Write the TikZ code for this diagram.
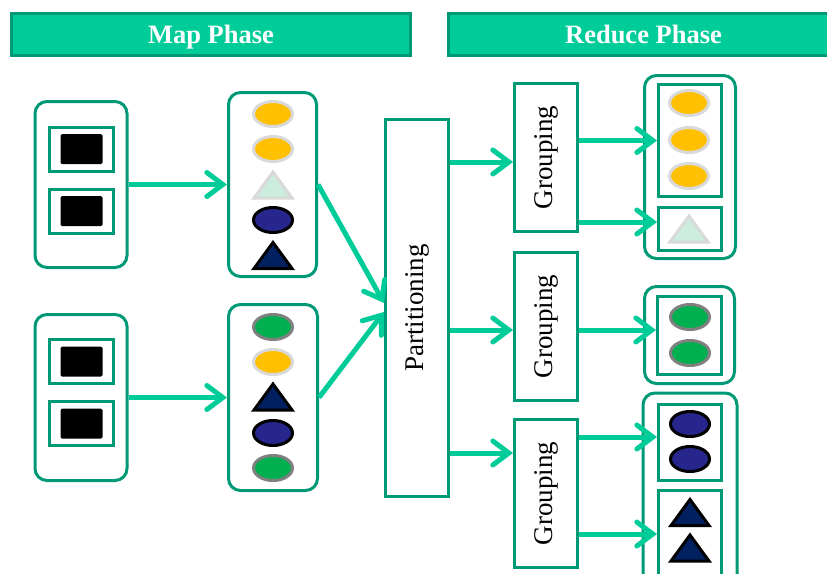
\documentclass[tikz,border=0pt]{standalone}
\usepackage{fontspec}
\setmainfont{Liberation Serif}
\usetikzlibrary{arrows.meta,shapes.geometric}

\definecolor{boxgreen}{RGB}{0,153,117}
\definecolor{flowgreen}{RGB}{0,204,153}
\definecolor{keyyellow}{RGB}{255,192,0}
\definecolor{keymint}{RGB}{204,236,222}
\definecolor{keynavy}{RGB}{38,38,140}
\definecolor{keydeep}{RGB}{0,32,96}
\definecolor{keygreen}{RGB}{0,176,80}
\definecolor{rimlight}{RGB}{217,217,217}
\definecolor{rimdark}{RGB}{128,128,128}

\tikzset{
  tri/.pic={\path[pic actions] (-19,13) -- (19,13) -- (0,-13) -- cycle;}
}

\begin{document}
\begin{tikzpicture}[x=1pt,y=-1pt,
      >={Straight Barb[length=16pt,width=24pt,line cap=round]},
      header/.style={draw=boxgreen,fill=flowgreen,line width=3pt,text=white,
        font=\bfseries\fontsize{26.5}{30}\selectfont,minimum height=42pt,
        text height=19.5pt,text depth=2.5pt},
      rbox/.style={draw=boxgreen,line width=3pt,rounded corners=12pt,inner sep=0pt},
      sbox/.style={draw=boxgreen,line width=3pt,inner sep=0pt,
        font=\fontsize{27}{30}\selectfont},
      blk/.style={fill=black,rounded corners=1.5pt,minimum width=42pt,minimum height=30pt},
      key/.style={ellipse,line width=3pt,inner sep=0pt,minimum width=39pt,minimum height=25pt},
      yel/.style={key,draw=rimlight,fill=keyyellow},
      navy/.style={key,draw=black,fill=keynavy},
      grn/.style={key,draw=rimdark,fill=keygreen},
      minttri/.style={draw=rimlight,fill=keymint,line width=3pt},
      deeptri/.style={draw=black,fill=keydeep,line width=3pt},
      flow/.style={->,draw=flowgreen,line width=5pt}]
  \useasboundingbox (0,0) rectangle (827,573);
  \clip (0,0) rectangle (827,573);

  % phase headers
  \node[header,minimum width=399pt] (maphdr) at (211,34.5) {Map Phase};
  \node[header,minimum width=391pt] (redhdr) at (643.5,34.5) {Reduce Phase};

  % input splits
  \node[rbox,minimum width=92pt,minimum height=166pt] (in1) at (81,184.5) {};
  \node[sbox,minimum width=64pt,minimum height=44pt] (in1a) at (81.5,149) {};
  \node[blk] (in1ak) at (in1a) {};
  \node[sbox,minimum width=64pt,minimum height=44pt] (in1b) at (81.5,211) {};
  \node[blk] (in1bk) at (in1b) {};
  \node[rbox,minimum width=92pt,minimum height=166pt] (in2) at (81,397.5) {};
  \node[sbox,minimum width=64pt,minimum height=44pt] (in2a) at (81.5,361.5) {};
  \node[blk] (in2ak) at (in2a) {};
  \node[sbox,minimum width=64pt,minimum height=44pt] (in2b) at (81.5,423.5) {};
  \node[blk] (in2bk) at (in2b) {};

  % map outputs
  \node[rbox,minimum width=88pt,minimum height=184pt] (map1) at (272.5,184.5) {};
  \node[yel] (map1k1) at (273,114) {};
  \node[yel] (map1k2) at (273,149) {};
  \pic[minttri] at (273,185) {tri};
  \node[navy] (map1k4) at (273,220) {};
  \pic[deeptri] at (273,255.5) {tri};
  \node[rbox,minimum width=89pt,minimum height=186pt] (map2) at (273,397.5) {};
  \node[grn] (map2k1) at (273,327) {};
  \node[yel] (map2k2) at (273,362) {};
  \pic[deeptri] at (273,397) {tri};
  \node[navy] (map2k4) at (273,433) {};
  \node[grn] (map2k5) at (273,468) {};

  % partitioning and grouping
  \node[sbox,minimum width=63pt,minimum height=377pt] (part) at (417,308) {\rotatebox{90}{Partitioning}};
  \node[sbox,minimum width=63pt,minimum height=148pt] (grp1) at (546,157.5) {\rotatebox{90}{Grouping}};
  \node[sbox,minimum width=63pt,minimum height=148pt] (grp2) at (546,326.5) {\rotatebox{90}{Grouping}};
  \node[sbox,minimum width=63pt,minimum height=148pt] (grp3) at (546,493.5) {\rotatebox{90}{Grouping}};

  % reduce inputs
  \node[rbox,minimum width=91pt,minimum height=183pt] (red1) at (690,167) {};
  \node[sbox,minimum width=63pt,minimum height=112pt] (red1a) at (690,140.5) {};
  \node[yel] (red1k1) at (689,103) {};
  \node[yel] (red1k2) at (689,140) {};
  \node[yel] (red1k3) at (689,176) {};
  \node[sbox,minimum width=63pt,minimum height=43pt] (red1b) at (690,229) {};
  \pic[minttri] at (689,229) {tri};
  \node[rbox,minimum width=90pt,minimum height=97pt] (red2) at (689.5,335) {};
  \node[sbox,minimum width=64pt,minimum height=78pt] (red2a) at (689.5,335.5) {};
  \node[grn] (red2k1) at (690,317) {};
  \node[grn] (red2k2) at (690,353) {};
  \node[rbox,minimum width=94pt,minimum height=195pt] (red3) at (690,490.5) {};
  \node[sbox,minimum width=63pt,minimum height=76pt] (red3a) at (690,442.5) {};
  \node[navy] (red3k1) at (690,424) {};
  \node[navy] (red3k2) at (690,459) {};
  \node[sbox,minimum width=63pt,minimum height=88pt] (red3b) at (690,534) {};
  \pic[deeptri] at (690,512.5) {tri};
  \pic[deeptri] at (690,548) {tri};

  % arrow ends
  \coordinate (g1in) at ([yshift=-4.5pt]grp1.west);
  \coordinate (g2in) at ([yshift=-3.5pt]grp2.west);
  \coordinate (g3in) at ([yshift=40.5pt]grp3.west);
  \coordinate (r1bin) at ([yshift=7pt]red1b.west);
  \coordinate (r2in) at ([yshift=5.5pt]red2a.west);
  \coordinate (r3ain) at ([yshift=5.5pt]red3a.west);

  \draw[flow] (in1.east) -- (map1.west);
  \draw[flow] (in2.east) -- (map2.west);
  \draw[flow] (map1.east) -- ([yshift=5pt]part.west);
  \draw[flow] (map2.east) -- ([yshift=-4pt]part.west);
  \draw[flow] (part.east |- g1in) -- (g1in);
  \draw[flow] (part.east |- g2in) -- (g2in);
  \draw[flow] (part.east |- g3in) -- (g3in);
  \draw[flow] (grp1.east |- red1a.west) -- (red1a.west);
  \draw[flow] (grp1.east |- r1bin) -- (r1bin);
  \draw[flow] (grp2.east |- r2in) -- (r2in);
  \draw[flow] (grp3.east |- r3ain) -- (r3ain);
  \draw[flow] (grp3.east |- red3b.west) -- (red3b.west);
\end{tikzpicture}
\end{document}
